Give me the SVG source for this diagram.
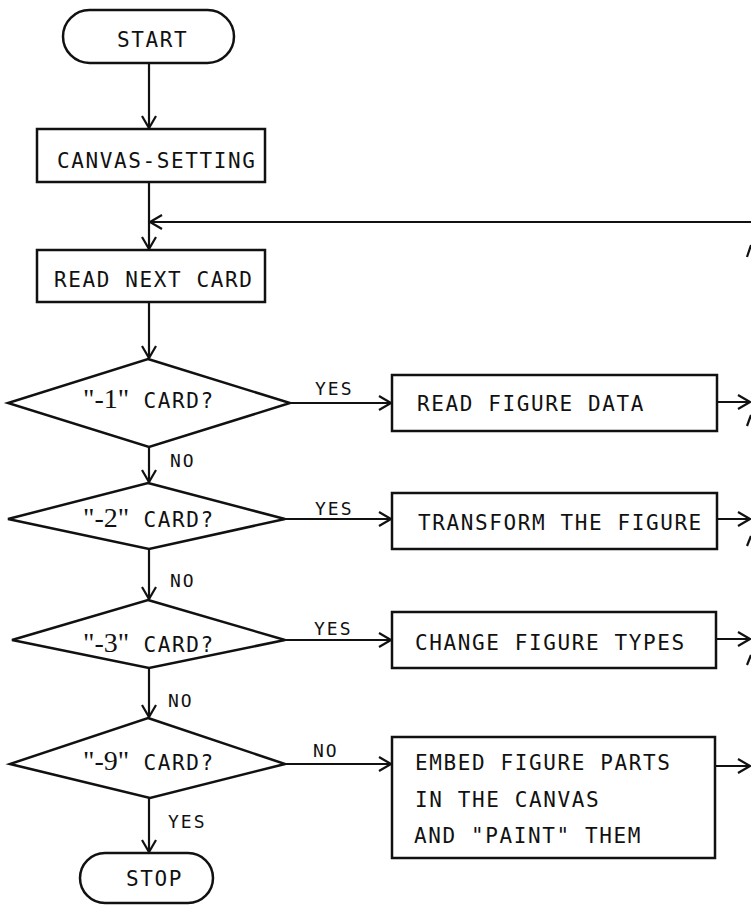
<svg xmlns="http://www.w3.org/2000/svg" width="751" height="905" viewBox="0 0 751 905">
<style>
.s{fill:#fff;stroke:#111;stroke-width:2.5}
.c{fill:none;stroke:#111;stroke-width:2.2}
.t{font-family:"DejaVu Sans Mono","Liberation Mono",monospace;font-size:21px;letter-spacing:1.6px;fill:#111}
.l{font-family:"DejaVu Sans Mono","Liberation Mono",monospace;font-size:18px;letter-spacing:2px;fill:#111}
.q{font-family:"Liberation Serif",serif;font-size:28px;letter-spacing:0}
</style>
<defs>
<marker id="a" markerUnits="userSpaceOnUse" markerWidth="16" markerHeight="16" refX="13" refY="8" orient="auto">
<path d="M1,1 L13,8 L1,15" fill="none" stroke="#111" stroke-width="2.2"/>
</marker>
</defs>
<g id="connectors">
<line class="c" x1="149" y1="63" x2="149" y2="128" marker-end="url(#a)"/>
<line class="c" x1="149" y1="182" x2="149" y2="249" marker-end="url(#a)"/>
<line class="c" x1="751" y1="222" x2="150" y2="222" marker-end="url(#a)"/>
<line class="c" x1="149" y1="302" x2="149" y2="358" marker-end="url(#a)"/>
<line class="c" x1="149" y1="447" x2="149" y2="482" marker-end="url(#a)"/>
<line class="c" x1="149" y1="549" x2="149" y2="599" marker-end="url(#a)"/>
<line class="c" x1="149" y1="668" x2="149" y2="717" marker-end="url(#a)"/>
<line class="c" x1="149" y1="798" x2="149" y2="852" marker-end="url(#a)"/>
<line class="c" x1="290" y1="403" x2="391" y2="403" marker-end="url(#a)"/>
<line class="c" x1="285" y1="519" x2="391" y2="519" marker-end="url(#a)"/>
<line class="c" x1="285" y1="640" x2="391" y2="640" marker-end="url(#a)"/>
<line class="c" x1="285" y1="764" x2="391" y2="764" marker-end="url(#a)"/>
<line class="c" x1="717" y1="402" x2="750" y2="402" marker-end="url(#a)"/>
<line class="c" x1="717" y1="519" x2="750" y2="519" marker-end="url(#a)"/>
<line class="c" x1="716" y1="639" x2="750" y2="639" marker-end="url(#a)"/>
<line class="c" x1="715" y1="766" x2="750" y2="766" marker-end="url(#a)"/>
<line class="c" x1="747" y1="257" x2="751" y2="245"/>
<line class="c" x1="747" y1="426" x2="751" y2="415"/>
<line class="c" x1="747" y1="546" x2="751" y2="536"/>
<line class="c" x1="747" y1="665" x2="751" y2="655"/>
<text class="l" x="315" y="395">YES</text>
<text class="l" x="315" y="515">YES</text>
<text class="l" x="314" y="635">YES</text>
<text class="l" x="313" y="757">NO</text>
<text class="l" x="170" y="467">NO</text>
<text class="l" x="170" y="587">NO</text>
<text class="l" x="168" y="707">NO</text>
<text class="l" x="168" y="828">YES</text>
</g>
<g id="start">
<rect class="s" x="63" y="10" width="171" height="53" rx="26.5"/>
<text class="t" x="117" y="47">START</text>
</g>
<g id="canvas-setting">
<rect class="s" x="37" y="129" width="228" height="53"/>
<text class="t" x="57" y="168">CANVAS-SETTING</text>
</g>
<g id="read-next-card">
<rect class="s" x="37" y="250" width="228" height="52"/>
<text class="t" x="54" y="287">READ NEXT CARD</text>
</g>
<g id="card1">
<polygon class="s" points="148,359 290,403 149,447 8,403"/>
<text class="t" x="83" y="408"><tspan class="q">"-1"</tspan> CARD?</text>
</g>
<g id="card2">
<polygon class="s" points="148,483 285,519 149,549 8,519"/>
<text class="t" x="83" y="527"><tspan class="q">"-2"</tspan> CARD?</text>
</g>
<g id="card3">
<polygon class="s" points="148,600 285,640 149,668 12,640"/>
<text class="t" x="83" y="652"><tspan class="q">"-3"</tspan> CARD?</text>
</g>
<g id="card9">
<polygon class="s" points="148,718 285,764 150,798 10,764"/>
<text class="t" x="83" y="770"><tspan class="q">"-9"</tspan> CARD?</text>
</g>
<g id="stop">
<rect class="s" x="80" y="853" width="133" height="50" rx="25"/>
<text class="t" x="126" y="886">STOP</text>
</g>
<g id="read-figure-data">
<rect class="s" x="392" y="375" width="325" height="56"/>
<text class="t" x="417" y="411">READ FIGURE DATA</text>
</g>
<g id="transform">
<rect class="s" x="392" y="493" width="325" height="56"/>
<text class="t" x="418" y="530">TRANSFORM THE FIGURE</text>
</g>
<g id="change-types">
<rect class="s" x="392" y="612" width="324" height="56"/>
<text class="t" x="415" y="650">CHANGE FIGURE TYPES</text>
</g>
<g id="embed">
<rect class="s" x="392" y="737" width="323" height="121"/>
<text class="t" x="415" y="770">EMBED FIGURE PARTS</text>
<text class="t" x="415" y="807">IN THE CANVAS</text>
<text class="t" x="414" y="843">AND "PAINT" THEM</text>
</g>
</svg>
